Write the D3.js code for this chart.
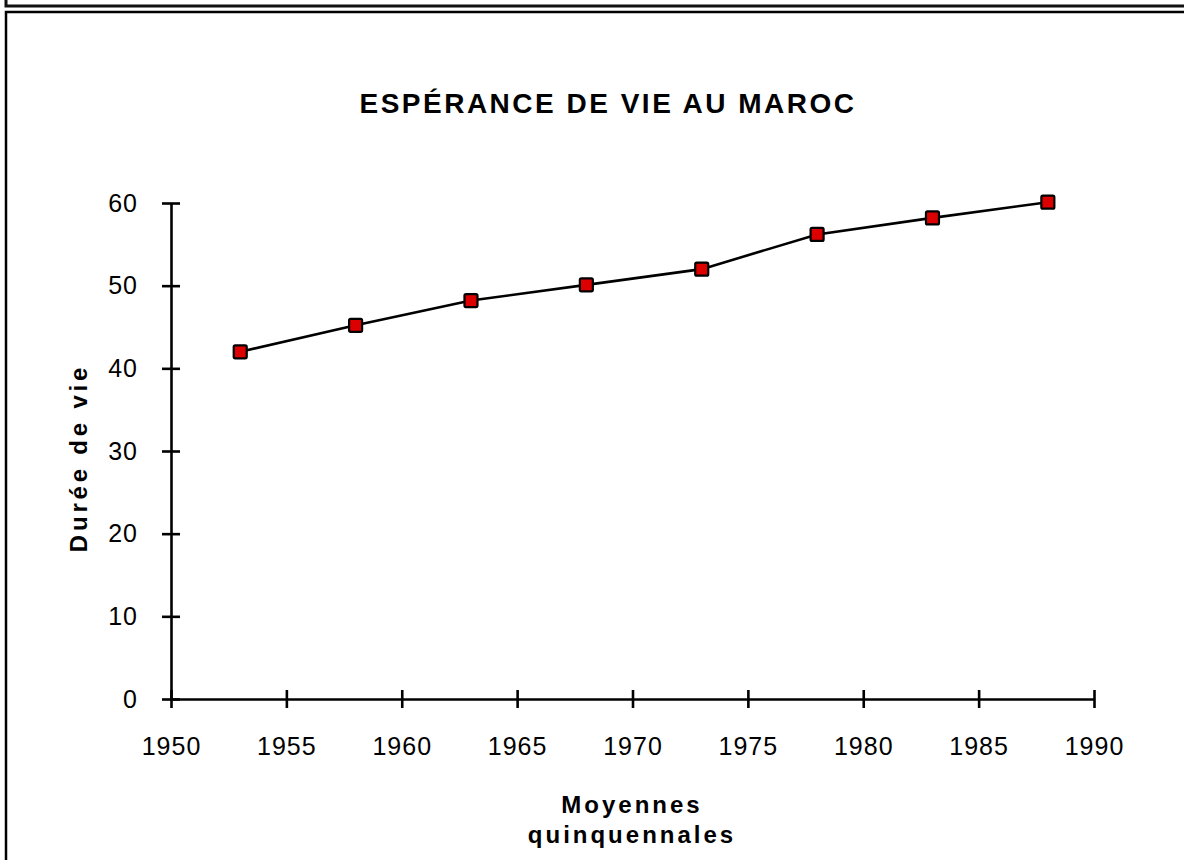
<!DOCTYPE html>
<meta charset="utf-8">
<script src="https://d3js.org/d3.v7.min.js"></script>
<style>
body { margin: 0; background: #fff; }
text { font-family: "Liberation Sans", Arial, sans-serif; fill: #000; }
.tick text { font-size: 25px; letter-spacing: 1px; }
</style>
<body>
<script>

// data
var years = [1953, 1958, 1963, 1968, 1973, 1978, 1983, 1988];
var lifeExp = [42, 45.2, 48.2, 50.1, 52, 56.2, 58.2, 60.1];
var xTicks = [1950, 1955, 1960, 1965, 1970, 1975, 1980, 1985, 1990];
var yTicks = [0, 10, 20, 30, 40, 50, 60];

var width = 1184,
    height = 860;

var svg = d3.select("body").append("svg")
    .attr("width", width)
    .attr("height", height);

// frame lines round the chart
svg.append("path")
    .attr("d", "M6,0V6H1184")
    .attr("fill", "none")
    .attr("stroke", "#111")
    .attr("stroke-width", 3);
svg.append("path")
    .attr("d", "M6,860V12H1184")
    .attr("fill", "none")
    .attr("stroke", "#000")
    .attr("stroke-width", 2.5);

var x = d3.scaleLinear().domain([1950, 1990]).range([171, 1094]);
var y = d3.scaleLinear().domain([0, 60]).range([699, 203]);

// x axis
var gx = svg.append("g")
    .attr("transform", "translate(0," + y(0) + ")")
    .call(d3.axisBottom(x).tickValues(xTicks).tickFormat(d3.format("d"))
      .tickSizeInner(9).tickSizeOuter(0).tickPadding(29));
gx.selectAll(".tick line").attr("y1", -9).attr("stroke-width", 2.6);
gx.select(".domain").attr("stroke-width", 2.6);

// y axis
var gy = svg.append("g")
    .attr("transform", "translate(" + x(1950) + ",0)")
    .call(d3.axisLeft(y).tickValues(yTicks)
      .tickSizeInner(9).tickSizeOuter(0).tickPadding(24));
gy.selectAll(".tick line").attr("x1", 9).attr("stroke-width", 2.6);
gy.select(".domain").attr("stroke-width", 2.6);
svg.selectAll(".tick text").attr("fill", "#000");

// line
var pts = years.map(function(d, i) { return [d, lifeExp[i]]; });
svg.append("path")
    .datum(pts)
    .attr("fill", "none")
    .attr("stroke", "#000")
    .attr("stroke-width", 2.6)
    .attr("d", d3.line()
      .x(function(d) { return x(d[0]); })
      .y(function(d) { return y(d[1]); }));

// markers
svg.selectAll("rect.mark")
    .data(pts)
  .enter().append("rect")
    .attr("class", "mark")
    .attr("x", function(d) { return x(d[0]) - 6.5; })
    .attr("y", function(d) { return y(d[1]) - 6.5; })
    .attr("width", 13)
    .attr("height", 13)
    .attr("rx", 1.5)
    .attr("fill", "#dd0000")
    .attr("stroke", "#000")
    .attr("stroke-width", 2.2);

// titles
svg.append("text")
    .attr("x", 608)
    .attr("y", 113)
    .attr("text-anchor", "middle")
    .style("font-size", "28px")
    .style("font-weight", "bold")
    .style("letter-spacing", "2.5px")
    .text("ESPÉRANCE DE VIE AU MAROC");

svg.append("text")
    .attr("transform", "translate(87,458) rotate(-90)")
    .attr("text-anchor", "middle")
    .style("font-size", "24px")
    .style("font-weight", "bold")
    .style("letter-spacing", "3.8px")
    .text("Durée de vie");

svg.append("text")
    .attr("x", 632)
    .attr("y", 813)
    .attr("text-anchor", "middle")
    .style("font-size", "24px")
    .style("font-weight", "bold")
    .style("letter-spacing", "3px")
    .text("Moyennes");

svg.append("text")
    .attr("x", 632)
    .attr("y", 843)
    .attr("text-anchor", "middle")
    .style("font-size", "24px")
    .style("font-weight", "bold")
    .style("letter-spacing", "3px")
    .text("quinquennales");

</script>
</body>
